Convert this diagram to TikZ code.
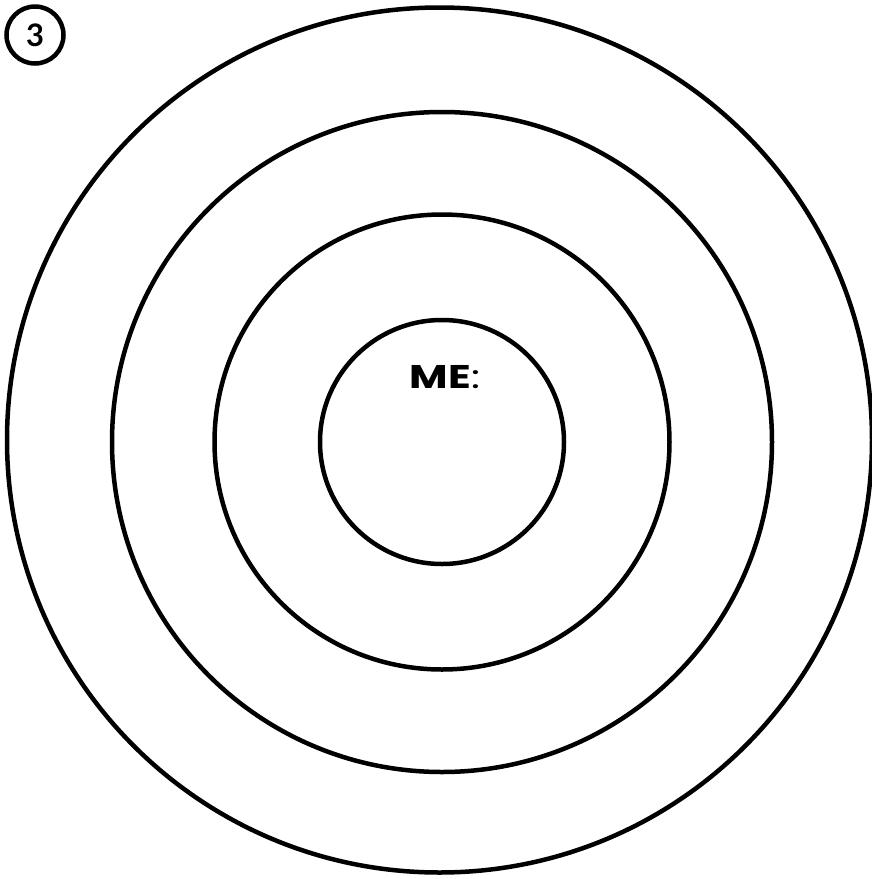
\documentclass[tikz,border=0pt]{standalone}
\usepackage{fontspec}
\setmainfont{Poppins}
\newfontfamily\numfont{Lato}
\usepackage{tikz}

\begin{document}
\begin{tikzpicture}[
  x=0.5pt, y=-0.5pt,
  ring/.style={draw, line width=2.25pt},
  badge/.style={draw, circle, line width=2.25pt, minimum size=28.5pt, inner sep=0pt, font=\numfont\bfseries\fontsize{15.5}{16}\selectfont},
  label/.style={anchor=base, inner sep=0pt, font=\fontsize{16.4}{18}\selectfont}
]
\useasboundingbox (0,0) rectangle (872,879);
\coordinate (mid) at (442,442);
\coordinate (rim) at (439.5,440);
% rings
\foreach \r in {122,227.5,330} {
  \draw[ring] (mid) circle (\r);
}
\draw[ring] (rim) circle (432.5);
\node[badge] (num) at (35,35) {3};
\node[label] (me) at (445,388) {\scalebox{1.28}[1]{\textbf{ME}:}};
\end{tikzpicture}
\end{document}
